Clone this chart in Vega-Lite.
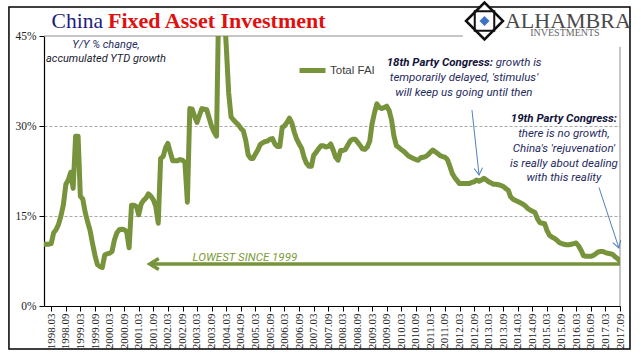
{
"$schema": "https://vega.github.io/schema/vega-lite/v6.json",
"width": 576, "height": 270,
"autosize": {"type": "none"},
"padding": {"left": 44, "top": 36, "right": 21, "bottom": 55},
"background": "white",
"config": {"view": {"stroke": null}},
"data": {"format": {"parse": {"date": "utc:'%Y-%m'"}}, "values": [
{"date":"1997-12","fai":10.3},{"date":"1998-01","fai":10.3},{"date":"1998-02","fai":10.3},{"date":"1998-03","fai":10.4},{"date":"1998-04","fai":12.2},{"date":"1998-05","fai":12.7},{"date":"1998-06","fai":13.6},{"date":"1998-07","fai":15.0},{"date":"1998-08","fai":16.9},{"date":"1998-09","fai":20.3},{"date":"1998-10","fai":21.0},{"date":"1998-11","fai":22.3},
{"date":"1998-12","fai":19.6},{"date":"1999-01","fai":28.3},{"date":"1999-02","fai":28.3},{"date":"1999-03","fai":18.3},{"date":"1999-04","fai":17.8},{"date":"1999-05","fai":15.6},{"date":"1999-06","fai":14.0},{"date":"1999-07","fai":12.6},{"date":"1999-08","fai":10.4},{"date":"1999-09","fai":8.4},{"date":"1999-10","fai":6.9},{"date":"1999-11","fai":6.6},
{"date":"1999-12","fai":6.4},{"date":"2000-01","fai":8.5},{"date":"2000-02","fai":8.7},{"date":"2000-03","fai":8.8},{"date":"2000-04","fai":9.1},{"date":"2000-05","fai":11.0},{"date":"2000-06","fai":12.2},{"date":"2000-07","fai":12.7},{"date":"2000-08","fai":12.8},{"date":"2000-09","fai":12.7},{"date":"2000-10","fai":12.4},{"date":"2000-11","fai":9.7},
{"date":"2000-12","fai":16.8},{"date":"2001-01","fai":16.8},{"date":"2001-02","fai":16.6},{"date":"2001-03","fai":15.2},{"date":"2001-04","fai":17.0},{"date":"2001-05","fai":17.6},{"date":"2001-06","fai":18.0},{"date":"2001-07","fai":18.7},{"date":"2001-08","fai":18.3},{"date":"2001-09","fai":17.7},{"date":"2001-10","fai":16.6},{"date":"2001-11","fai":13.8},
{"date":"2001-12","fai":24.6},{"date":"2002-01","fai":24.9},{"date":"2002-02","fai":26.4},{"date":"2002-03","fai":27.1},{"date":"2002-04","fai":25.6},{"date":"2002-05","fai":24.2},{"date":"2002-06","fai":24.2},{"date":"2002-07","fai":24.2},{"date":"2002-08","fai":24.4},{"date":"2002-09","fai":24.3},{"date":"2002-10","fai":23.9},{"date":"2002-11","fai":17.3},
{"date":"2002-12","fai":32.9},{"date":"2003-01","fai":32.8},{"date":"2003-02","fai":31.5},{"date":"2003-03","fai":30.6},{"date":"2003-04","fai":31.8},{"date":"2003-05","fai":32.9},{"date":"2003-06","fai":32.8},{"date":"2003-07","fai":32.7},{"date":"2003-08","fai":31.3},{"date":"2003-09","fai":29.9},{"date":"2003-10","fai":29.0},{"date":"2003-11","fai":28.3},
{"date":"2003-12","fai":53.0},{"date":"2004-01","fai":53.0},{"date":"2004-02","fai":50.0},{"date":"2004-03","fai":43.5},{"date":"2004-04","fai":35.5},{"date":"2004-05","fai":31.5},{"date":"2004-06","fai":31.0},{"date":"2004-07","fai":30.6},{"date":"2004-08","fai":30.2},{"date":"2004-09","fai":29.6},{"date":"2004-10","fai":29.2},{"date":"2004-11","fai":27.6},
{"date":"2004-12","fai":25.2},{"date":"2005-01","fai":24.6},{"date":"2005-02","fai":24.6},{"date":"2005-03","fai":25.3},{"date":"2005-04","fai":26.0},{"date":"2005-05","fai":26.9},{"date":"2005-06","fai":27.2},{"date":"2005-07","fai":27.4},{"date":"2005-08","fai":27.5},{"date":"2005-09","fai":27.8},{"date":"2005-10","fai":27.9},{"date":"2005-11","fai":27.0},
{"date":"2005-12","fai":26.6},{"date":"2006-01","fai":26.6},{"date":"2006-02","fai":29.8},{"date":"2006-03","fai":30.0},{"date":"2006-04","fai":30.6},{"date":"2006-05","fai":31.3},{"date":"2006-06","fai":30.5},{"date":"2006-07","fai":29.0},{"date":"2006-08","fai":27.8},{"date":"2006-09","fai":27.0},{"date":"2006-10","fai":26.3},{"date":"2006-11","fai":24.8},
{"date":"2006-12","fai":23.8},{"date":"2007-01","fai":23.3},{"date":"2007-02","fai":23.3},{"date":"2007-03","fai":25.1},{"date":"2007-04","fai":25.6},{"date":"2007-05","fai":26.2},{"date":"2007-06","fai":26.7},{"date":"2007-07","fai":26.7},{"date":"2007-08","fai":26.5},{"date":"2007-09","fai":26.6},{"date":"2007-10","fai":27.0},{"date":"2007-11","fai":26.0},
{"date":"2007-12","fai":24.8},{"date":"2008-01","fai":24.3},{"date":"2008-02","fai":25.9},{"date":"2008-03","fai":25.9},{"date":"2008-04","fai":26.1},{"date":"2008-05","fai":26.8},{"date":"2008-06","fai":27.5},{"date":"2008-07","fai":27.8},{"date":"2008-08","fai":27.8},{"date":"2008-09","fai":27.3},{"date":"2008-10","fai":26.8},{"date":"2008-11","fai":26.2},
{"date":"2008-12","fai":26.1},{"date":"2009-01","fai":26.5},{"date":"2009-02","fai":27.5},{"date":"2009-03","fai":30.3},{"date":"2009-04","fai":32.2},{"date":"2009-05","fai":33.7},{"date":"2009-06","fai":33.1},{"date":"2009-07","fai":32.9},{"date":"2009-08","fai":33.1},{"date":"2009-09","fai":33.3},{"date":"2009-10","fai":32.6},{"date":"2009-11","fai":31.0},
{"date":"2009-12","fai":28.3},{"date":"2010-01","fai":26.7},{"date":"2010-02","fai":26.4},{"date":"2010-03","fai":26.1},{"date":"2010-04","fai":25.8},{"date":"2010-05","fai":25.4},{"date":"2010-06","fai":25.0},{"date":"2010-07","fai":24.8},{"date":"2010-08","fai":24.6},{"date":"2010-09","fai":24.4},{"date":"2010-10","fai":24.3},{"date":"2010-11","fai":24.7},
{"date":"2010-12","fai":24.8},{"date":"2011-01","fai":24.9},{"date":"2011-02","fai":25.2},{"date":"2011-03","fai":25.6},{"date":"2011-04","fai":26.0},{"date":"2011-05","fai":25.7},{"date":"2011-06","fai":25.4},{"date":"2011-07","fai":25.1},{"date":"2011-08","fai":24.9},{"date":"2011-09","fai":24.8},{"date":"2011-10","fai":24.4},{"date":"2011-11","fai":23.3},
{"date":"2011-12","fai":22.1},{"date":"2012-01","fai":21.4},{"date":"2012-02","fai":20.9},{"date":"2012-03","fai":20.4},{"date":"2012-04","fai":20.4},{"date":"2012-05","fai":20.4},{"date":"2012-06","fai":20.4},{"date":"2012-07","fai":20.4},{"date":"2012-08","fai":20.6},{"date":"2012-09","fai":20.7},{"date":"2012-10","fai":21.0},{"date":"2012-11","fai":20.8},
{"date":"2012-12","fai":21.0},{"date":"2013-01","fai":21.3},{"date":"2013-02","fai":21.0},{"date":"2013-03","fai":20.7},{"date":"2013-04","fai":20.5},{"date":"2013-05","fai":20.3},{"date":"2013-06","fai":20.3},{"date":"2013-07","fai":20.2},{"date":"2013-08","fai":20.1},{"date":"2013-09","fai":19.9},{"date":"2013-10","fai":19.6},{"date":"2013-11","fai":19.3},
{"date":"2013-12","fai":18.2},{"date":"2014-01","fai":17.8},{"date":"2014-02","fai":17.6},{"date":"2014-03","fai":17.4},{"date":"2014-04","fai":17.2},{"date":"2014-05","fai":17.0},{"date":"2014-06","fai":16.7},{"date":"2014-07","fai":16.3},{"date":"2014-08","fai":16.0},{"date":"2014-09","fai":15.8},{"date":"2014-10","fai":15.6},{"date":"2014-11","fai":14.6},
{"date":"2014-12","fai":13.9},{"date":"2015-01","fai":13.8},{"date":"2015-02","fai":13.7},{"date":"2015-03","fai":12.6},{"date":"2015-04","fai":11.8},{"date":"2015-05","fai":11.5},{"date":"2015-06","fai":11.3},{"date":"2015-07","fai":11.0},{"date":"2015-08","fai":10.6},{"date":"2015-09","fai":10.4},{"date":"2015-10","fai":10.3},{"date":"2015-11","fai":10.2},
{"date":"2015-12","fai":10.2},{"date":"2016-01","fai":10.3},{"date":"2016-02","fai":10.4},{"date":"2016-03","fai":10.5},{"date":"2016-04","fai":10.0},{"date":"2016-05","fai":9.3},{"date":"2016-06","fai":8.4},{"date":"2016-07","fai":8.3},{"date":"2016-08","fai":8.3},{"date":"2016-09","fai":8.3},{"date":"2016-10","fai":8.4},{"date":"2016-11","fai":8.7},
{"date":"2016-12","fai":9.0},{"date":"2017-01","fai":9.1},{"date":"2017-02","fai":9.1},{"date":"2017-03","fai":8.9},{"date":"2017-04","fai":8.8},{"date":"2017-05","fai":8.7},{"date":"2017-06","fai":8.6},{"date":"2017-07","fai":8.2},{"date":"2017-08","fai":7.9},{"date":"2017-09","fai":7.5}
]},
"encoding": {
 "x": {"field": "date", "type": "temporal",
  "scale": {"type": "utc", "domain": [{"year":1997,"month":12,"date":1,"utc":true},{"year":2017,"month":9,"date":1,"utc":true}]},
  "axis": {"title": null, "grid": false, "labelExpr": "utcFormat(datum.value, '%Y.%m')", "labelAngle": 270,
   "labelFont": "Liberation Serif", "labelFontSize": 11, "labelColor": "#222", "labelPadding": 2,
   "labelOverlap": false, "labelBound": false, "labelFlush": false,
   "domainColor": "#000", "domainWidth": 1.2, "tickColor": "#000", "tickSize": 5, "tickWidth": 1,
   "values": [
    {"year":1998,"month":3,"utc":true},{"year":1998,"month":9,"utc":true},{"year":1999,"month":3,"utc":true},{"year":1999,"month":9,"utc":true},
    {"year":2000,"month":3,"utc":true},{"year":2000,"month":9,"utc":true},{"year":2001,"month":3,"utc":true},{"year":2001,"month":9,"utc":true},
    {"year":2002,"month":3,"utc":true},{"year":2002,"month":9,"utc":true},{"year":2003,"month":3,"utc":true},{"year":2003,"month":9,"utc":true},
    {"year":2004,"month":3,"utc":true},{"year":2004,"month":9,"utc":true},{"year":2005,"month":3,"utc":true},{"year":2005,"month":9,"utc":true},
    {"year":2006,"month":3,"utc":true},{"year":2006,"month":9,"utc":true},{"year":2007,"month":3,"utc":true},{"year":2007,"month":9,"utc":true},
    {"year":2008,"month":3,"utc":true},{"year":2008,"month":9,"utc":true},{"year":2009,"month":3,"utc":true},{"year":2009,"month":9,"utc":true},
    {"year":2010,"month":3,"utc":true},{"year":2010,"month":9,"utc":true},{"year":2011,"month":3,"utc":true},{"year":2011,"month":9,"utc":true},
    {"year":2012,"month":3,"utc":true},{"year":2012,"month":9,"utc":true},{"year":2013,"month":3,"utc":true},{"year":2013,"month":9,"utc":true},
    {"year":2014,"month":3,"utc":true},{"year":2014,"month":9,"utc":true},{"year":2015,"month":3,"utc":true},{"year":2015,"month":9,"utc":true},
    {"year":2016,"month":3,"utc":true},{"year":2016,"month":9,"utc":true},{"year":2017,"month":3,"utc":true},{"year":2017,"month":9,"utc":true}
   ]}},
 "y": {"field": "fai", "type": "quantitative",
  "scale": {"domain": [0, 45], "nice": false, "zero": false},
  "axis": {"title": null, "values": [0, 15, 30, 45], "labelExpr": "datum.value + '%'",
   "labelFont": "Liberation Serif", "labelFontSize": 11.5, "labelColor": "#222", "labelPadding": 3,
   "domainColor": "#000", "domainWidth": 1.2, "tickColor": "#000", "tickSize": 5,
   "grid": true, "gridColor": "#a8a8a8", "gridDash": [3, 2],
   "gridOpacity": {"condition": {"test": "datum.value == 15 || datum.value == 30", "value": 1}, "value": 0}}}
},
"layer": [
 {"transform": [{"filter": {"field": "fai", "equal": 7.5}}], "mark": {"type": "rect", "fill": null, "fillOpacity": 0, "stroke": "#000", "strokeWidth": 1.5, "clip": false},
  "encoding": {
   "x": {"datum": {"year":1996,"month":9,"date":18,"utc":true}, "type": "temporal"},
   "x2": {"datum": {"year":2018,"month":1,"date":4,"utc":true}},
   "y": {"datum": 49.83}, "y2": {"datum": -7.17}}},
 {"transform": [{"filter": {"field": "fai", "equal": 7.5}}], "mark": {"type": "rule", "color": "#8c8c8c", "strokeWidth": 1},
  "encoding": {
   "x": {"datum": {"year":1997,"month":12,"date":1,"utc":true}, "type": "temporal"},
   "x2": {"datum": {"year":2012,"month":4,"date":12,"utc":true}},
   "y": {"datum": 45}}},
 {"transform": [{"filter": {"field": "fai", "equal": 7.5}}], "mark": {"type": "rule", "color": "#8c8c8c", "strokeWidth": 1},
  "encoding": {
   "x": {"datum": {"year":2017,"month":9,"date":1,"utc":true}, "type": "temporal"},
   "y": {"datum": 0}, "y2": {"datum": 43.2}}},
 {"transform": [{"filter": {"field": "fai", "equal": 7.5}}], "mark": {"type": "rule", "color": "#77933C", "strokeWidth": 3.5},
  "encoding": {
   "x": {"datum": {"year":2001,"month":7,"date":20,"utc":true}, "type": "temporal"},
   "x2": {"datum": {"year":2017,"month":9,"date":1,"utc":true}},
   "y": {"datum": 7.0}}},
 {"transform": [{"filter": {"field": "fai", "equal": 7.5}}], "mark": {"type": "point", "shape": "M1,-0.6L0,0L1,0.6", "size": 324, "filled": false, "stroke": "#77933C", "strokeWidth": 3.5, "opacity": 1},
  "encoding": {
   "x": {"datum": {"year":2001,"month":7,"date":18,"utc":true}, "type": "temporal"},
   "y": {"datum": 7.0}}},
 {"transform": [{"filter": {"field": "fai", "equal": 7.5}}], "mark": {"type": "text", "text": "LOWEST SINCE 1999", "font": "Roboto", "fontStyle": "italic", "fontSize": 11.5, "color": "#7d9b3a", "align": "center", "baseline": "alphabetic"},
  "encoding": {
   "x": {"datum": {"year":2004,"month":10,"date":21,"utc":true}, "type": "temporal"},
   "y": {"datum": 7.58}}},
 {"mark": {"type": "line", "strokeWidth": 5, "strokeJoin": "round", "strokeCap": "round", "clip": true},
  "encoding": {
   "color": {"datum": "Total FAI", "type": "nominal", "scale": {"range": ["#77933C"]},
    "legend": {"orient": "none", "legendX": 253, "legendY": 19, "title": null, "padding": 0,
     "symbolType": "stroke", "symbolSize": 676, "symbolStrokeWidth": 5,
     "labelFont": "Liberation Sans", "labelFontSize": 11.5, "labelColor": "#404040", "labelOffset": 2}}}},
 {"transform": [{"filter": {"field": "fai", "equal": 7.5}}], "mark": {"type": "rule", "color": "#4f81bd", "strokeWidth": 1},
  "encoding": {
   "x": {"datum": {"year":2012,"month":8,"date":4,"utc":true}, "type": "temporal"},
   "x2": {"datum": {"year":2012,"month":11,"date":1,"utc":true}},
   "y": {"datum": 32.67}, "y2": {"datum": 21.83}}},
 {"transform": [{"filter": {"field": "fai", "equal": 7.5}}], "mark": {"type": "point", "shape": "M-0.6,-1L0,0L0.6,-1", "size": 196, "filled": false, "stroke": "#4f81bd", "strokeWidth": 1, "angle": -6, "opacity": 1},
  "encoding": {
   "x": {"datum": {"year":2012,"month":11,"date":1,"utc":true}, "type": "temporal"},
   "y": {"datum": 21.83}}},
 {"transform": [{"filter": {"field": "fai", "equal": 7.5}}], "mark": {"type": "rule", "color": "#4f81bd", "strokeWidth": 1},
  "encoding": {
   "x": {"datum": {"year":2016,"month":12,"date":12,"utc":true}, "type": "temporal"},
   "x2": {"datum": {"year":2017,"month":8,"date":18,"utc":true}},
   "y": {"datum": 19.75}, "y2": {"datum": 9.67}}},
 {"transform": [{"filter": {"field": "fai", "equal": 7.5}}], "mark": {"type": "point", "shape": "M-0.6,-1L0,0L0.6,-1", "size": 196, "filled": false, "stroke": "#4f81bd", "strokeWidth": 1, "angle": -18, "opacity": 1},
  "encoding": {
   "x": {"datum": {"year":2017,"month":8,"date":18,"utc":true}, "type": "temporal"},
   "y": {"datum": 9.67}}},
 {"transform": [{"filter": {"field": "fai", "equal": 7.5}}], "mark": {"type": "text", "text": "18th Party Congress:", "font": "Roboto", "fontStyle": "italic", "fontWeight": "bold", "fontSize": 11.5, "color": "#14143a", "align": "right", "baseline": "alphabetic"},
  "encoding": {
   "x": {"datum": {"year":2013,"month":4,"date":23,"utc":true}, "type": "temporal"},
   "y": {"datum": 39.92}}},
 {"transform": [{"filter": {"field": "fai", "equal": 7.5}}], "mark": {"type": "text", "text": "growth is", "font": "Roboto", "fontStyle": "italic", "fontSize": 11.5, "color": "#1f2a60", "align": "left", "baseline": "alphabetic"},
  "encoding": {
   "x": {"datum": {"year":2013,"month":5,"date":30,"utc":true}, "type": "temporal"},
   "y": {"datum": 39.92}}},
 {"transform": [{"filter": {"field": "fai", "equal": 7.5}}], "mark": {"type": "text", "text": ["temporarily delayed, 'stimulus'", "will keep us going until then"], "lineHeight": 14.8, "font": "Roboto", "fontStyle": "italic", "fontSize": 11.5, "color": "#1f2a60", "align": "center", "baseline": "alphabetic"},
  "encoding": {
   "x": {"datum": {"year":2012,"month":4,"date":25,"utc":true}, "type": "temporal"},
   "y": {"datum": 37.5}}},
 {"transform": [{"filter": {"field": "fai", "equal": 7.5}}], "mark": {"type": "text", "text": "19th Party Congress:", "font": "Roboto", "fontStyle": "italic", "fontWeight": "bold", "fontSize": 11.5, "color": "#14143a", "align": "center", "baseline": "alphabetic"},
  "encoding": {
   "x": {"datum": {"year":2015,"month":9,"date":29,"utc":true}, "type": "temporal"},
   "y": {"datum": 30.67}}},
 {"transform": [{"filter": {"field": "fai", "equal": 7.5}}], "mark": {"type": "text", "text": ["there is no growth,", "China's 'rejuvenation'", "is really about dealing", "with this reality"], "lineHeight": 14.8, "font": "Roboto", "fontStyle": "italic", "fontSize": 11.5, "color": "#1f2a60", "align": "center", "baseline": "alphabetic"},
  "encoding": {
   "x": {"datum": {"year":2015,"month":9,"date":29,"utc":true}, "type": "temporal"},
   "y": {"datum": 28.17}}},
 {"transform": [{"filter": {"field": "fai", "equal": 7.5}}], "mark": {"type": "text", "text": "Y/Y % change,", "font": "Roboto", "fontStyle": "italic", "fontSize": 11, "color": "#1f2a60", "align": "center", "baseline": "alphabetic"},
  "encoding": {
   "x": {"datum": {"year":2000,"month":1,"date":16,"utc":true}, "type": "temporal"},
   "y": {"datum": 43.0}}},
 {"transform": [{"filter": {"field": "fai", "equal": 7.5}}], "mark": {"type": "text", "text": "accumulated YTD growth", "font": "Roboto", "fontStyle": "italic", "fontSize": 11, "color": "#1a1a2e", "align": "center", "baseline": "alphabetic"},
  "encoding": {
   "x": {"datum": {"year":2000,"month":1,"date":16,"utc":true}, "type": "temporal"},
   "y": {"datum": 40.67}}},
 {"transform": [{"filter": {"field": "fai", "equal": 7.5}}], "mark": {"type": "text", "text": "China", "font": "Liberation Serif", "fontSize": 21.5, "color": "#1c1c80", "align": "right", "baseline": "alphabetic", "clip": false},
  "encoding": {
   "x": {"datum": {"year":1999,"month":12,"date":9,"utc":true}, "type": "temporal"},
   "y": {"datum": 46.33}}},
 {"transform": [{"filter": {"field": "fai", "equal": 7.5}}], "mark": {"type": "text", "text": "Fixed Asset Investment", "font": "Liberation Serif", "fontWeight": "bold", "fontSize": 22, "color": "#e01010", "align": "left", "baseline": "alphabetic"},
  "encoding": {
   "x": {"datum": {"year":2000,"month":2,"date":11,"utc":true}, "type": "temporal"},
   "y": {"datum": 46.33}}},
 {"transform": [{"filter": {"field": "fai", "equal": 7.5}}], "mark": {"type": "point", "shape": "diamond", "size": 1369, "filled": true, "fill": "white", "stroke": "#111", "strokeWidth": 2.5, "opacity": 1},
  "encoding": {
   "x": {"datum": {"year":2013,"month":1,"date":8,"utc":true}, "type": "temporal"},
   "y": {"datum": 47.5}}},
 {"transform": [{"filter": {"field": "fai", "equal": 7.5}}], "mark": {"type": "point", "shape": "square", "size": 380, "filled": false, "stroke": "#111", "strokeWidth": 2, "opacity": 1},
  "encoding": {
   "x": {"datum": {"year":2013,"month":1,"date":8,"utc":true}, "type": "temporal"},
   "y": {"datum": 47.5}}},
 {"transform": [{"filter": {"field": "fai", "equal": 7.5}}], "mark": {"type": "point", "shape": "diamond", "size": 100, "filled": true, "color": "#3d72c4", "opacity": 1},
  "encoding": {
   "x": {"datum": {"year":2013,"month":1,"date":8,"utc":true}, "type": "temporal"},
   "y": {"datum": 47.5}}},
 {"transform": [{"filter": {"field": "fai", "equal": 7.5}}], "mark": {"type": "text", "text": "ALHAMBRA", "font": "Liberation Serif", "fontSize": 22, "color": "#4a4a4a", "align": "left", "baseline": "alphabetic"},
  "encoding": {
   "x": {"datum": {"year":2013,"month":9,"date":21,"utc":true}, "type": "temporal"},
   "y": {"datum": 46.4}}},
 {"transform": [{"filter": {"field": "fai", "equal": 7.5}}], "mark": {"type": "text", "text": "INVESTMENTS", "font": "Liberation Serif", "fontSize": 10, "color": "#666", "align": "center", "baseline": "alphabetic"},
  "encoding": {
   "x": {"datum": {"year":2015,"month":10,"date":12,"utc":true}, "type": "temporal"},
   "y": {"datum": 45.0}}}
]
}
